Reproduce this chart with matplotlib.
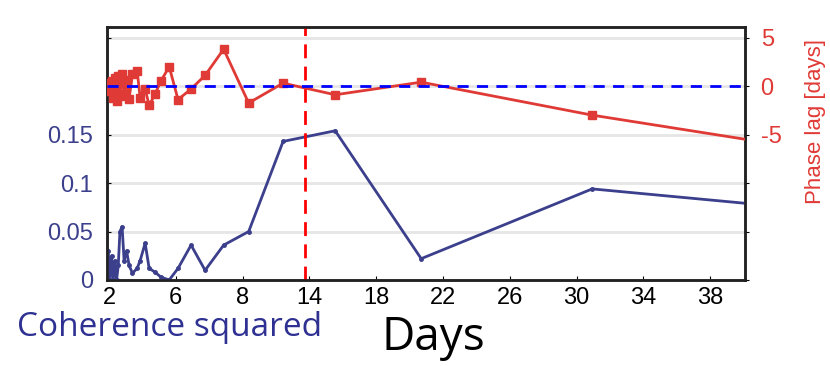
import matplotlib
matplotlib.use("Agg")
import matplotlib.pyplot as plt

# periode (dias) comum as duas series
dias = [1.95, 2.05, 2.15, 2.25, 2.35, 2.45, 2.55, 2.65, 2.78, 2.9,
        3.05, 3.2, 3.4, 3.68, 3.86, 4.16, 4.4, 4.76, 5.1, 5.6,
        6.13, 6.91, 7.75, 8.86, 10.36, 12.42, 15.54, 20.69, 30.93, 40.5]

coerencia = [0.030, 0.0, 0.025, 0.0, 0.020, 0.0, 0.015, 0.050, 0.055, 0.020,
             0.030, 0.015, 0.007, 0.012, 0.020, 0.038, 0.012, 0.008, 0.003, 0.0,
             0.012, 0.036, 0.010, 0.036, 0.050, 0.143, 0.154, 0.022, 0.094, 0.0785]

fase = [0.3, -0.5, 0.5, -1.2, 0.8, -1.5, 1.0, -1.0, 1.2, -0.8,
        0.6, -1.3, 1.2, 1.6, -1.2, -0.3, -2.0, -0.8, 0.5, 2.0,
        -1.4, -0.3, 1.1, 3.8, -1.75, 0.3, -0.9, 0.4, -3.0, -5.6]

xticks = [2, 6, 10, 14, 18, 22, 26, 30, 34, 38]
xlabels = ["2", "6", "8", "14", "18", "22", "26", "30", "34", "38"]
coer_ticks = [0, 0.05, 0.1, 0.15, 0.2, 0.25]
coer_labels = ["0", "0.05", "0.1", "0.15", "", ""]
fase_ticks = [-20, -15, -10, -5, 0, 5]
fase_labels = ["", "", "", "-5", "0", "5"]
corte = 13.74

azul = "#3b3f8c"
vermelho = "#e03a36"

fig = plt.figure(figsize=(8.3, 3.66), dpi=100)
ax = fig.add_axes([0.129, 0.235, 0.769, 0.691])
ax2 = ax.twinx()

ax.set_xlim(1.88, 40.1)
ax.set_ylim(0, 0.261)
ax2.set_ylim(-20, 6.08)

ax.plot(dias, coerencia, color=azul, lw=2, marker="o", ms=2.5, zorder=3)
ax.axvline(corte, color="#ff0000", lw=2, ls=(0, (5, 3)), zorder=4)

ax2.plot(dias, fase, color=vermelho, lw=2, marker="s", ms=6, zorder=3)
ax2.axhline(0, color="#0000ff", lw=2, ls=(0, (4, 3)), zorder=5)

ax.set_yticks(coer_ticks)
ax.set_yticklabels(coer_labels)
ax.yaxis.grid(True, color="#e6e6e6", lw=2)
ax.set_axisbelow(True)
ax.set_xticks(xticks)
ax.set_xticklabels(xlabels)
ax2.set_yticks(fase_ticks)
ax2.set_yticklabels(fase_labels)

ax.tick_params(axis="x", direction="in", length=3, labelsize=17, pad=5,
               labelcolor="black")
ax.tick_params(axis="y", direction="in", length=3, labelsize=17, pad=10,
               labelcolor=azul)
ax2.tick_params(axis="y", direction="out", length=3, labelsize=17, pad=8,
                labelcolor=vermelho)

for a in (ax, ax2):
    for s in a.spines.values():
        s.set_linewidth(1.8)
        s.set_color("#222222")
    for lbl in a.get_xticklabels() + a.get_yticklabels():
        lbl.set_family("Liberation Sans")

# rotulo do eixo da fase fica mais alto que o centro do eixo
fig.text(0.982, 0.669, "Phase lag [days]", color=vermelho, fontsize=16,
         family="Liberation Sans", rotation=90, ha="center", va="center")

fig.text(0.021, 0.105, "Coherence squared", color="#2e3192", fontsize=24,
         family="Open Sans", ha="left", va="center")
fig.text(0.522, 0.077, "Days", color="black", fontsize=33,
         family="Open Sans", ha="center", va="center")

fig.savefig("out.png", dpi=100)
